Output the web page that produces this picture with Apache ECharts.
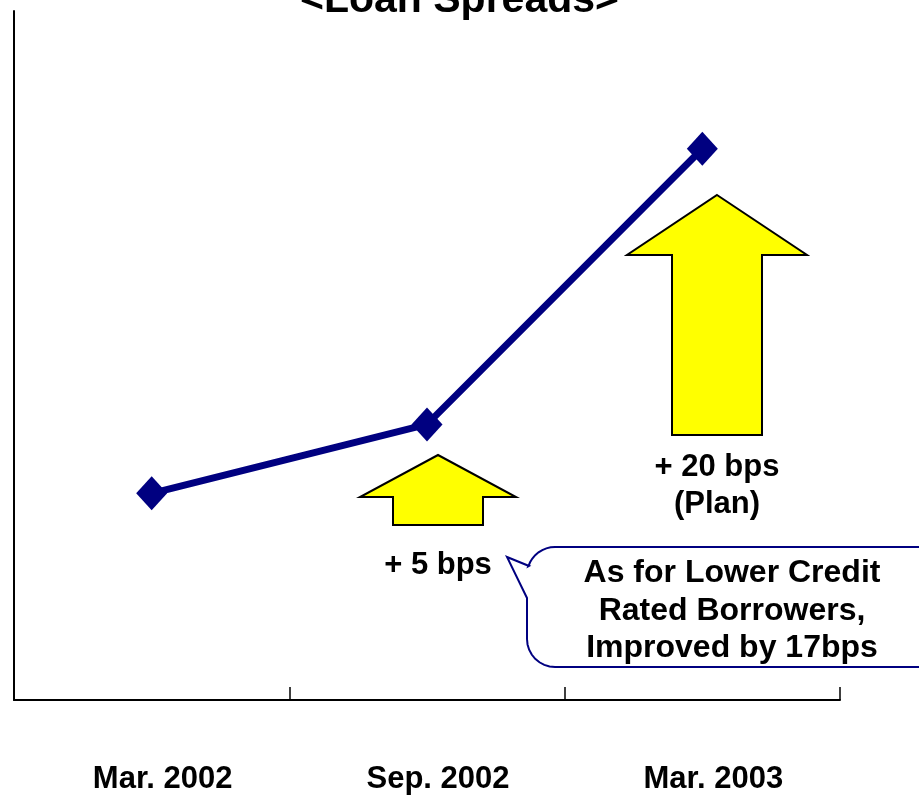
<!DOCTYPE html>
<html>
<head>
<meta charset="utf-8">
<script src="https://cdn.jsdelivr.net/npm/echarts@6/dist/echarts.min.js"></script>
<style>
  html, body { margin: 0; padding: 0; background: #fff; }
  #chart { width: 919px; height: 795px; }
</style>
</head>
<body>
<div id="chart"></div>
<script>
// Loan spread levels (bps above base) for each period
const periods = ['Mar. 2002', 'Sep. 2002', 'Mar. 2003'];
const spreads = [15, 20, 40];
const yMin = 0;
const yMax = 50;

const FONT = '"Liberation Sans", Arial, sans-serif';
const NAVY = '#000080';

const chart = echarts.init(document.getElementById('chart'));

// Block up-arrow outline: tip, head corners, shaft
function upArrow(cx, tipY, headY, baseY, headHalf, shaftHalf) {
  return [
    [cx, tipY],
    [cx + headHalf, headY],
    [cx + shaftHalf, headY],
    [cx + shaftHalf, baseY],
    [cx - shaftHalf, baseY],
    [cx - shaftHalf, headY],
    [cx - headHalf, headY]
  ];
}

// Circle-arc points from angle a0 to a1 (radians)
function arc(cx, cy, r, a0, a1, n) {
  const pts = [];
  for (let i = 0; i <= n; i++) {
    const a = a0 + (a1 - a0) * i / n;
    pts.push([cx + r * Math.cos(a), cy + r * Math.sin(a)]);
  }
  return pts;
}

// Speech bubble: rounded box with a tail pointing up-left
function bubble(x0, y0, x1, y1, r) {
  const pts = [];
  pts.push([x0, y0 + 51]);          // tail lower join
  pts.push([x0 - 20, y0 + 10]);     // tail tip
  pts.push([x0 + 2, y0 + 19]);      // tail upper join
  arc(x0 + r, y0 + r, r, Math.PI * 1.1, Math.PI * 1.5, 8).forEach(p => pts.push(p));
  pts.push([x1, y0]);
  pts.push([x1, y1]);
  arc(x0 + r, y1 - r, r, Math.PI * 0.5, Math.PI, 8).forEach(p => pts.push(p));
  return pts;
}

const labelStyle = { fontFamily: FONT, fontWeight: 'bold', fontSize: 31, fill: '#000' };

chart.setOption({
  animation: false,
  backgroundColor: '#fff',
  title: {
    text: '<Loan Spreads>',
    left: 'center',
    top: -25,
    textStyle: { fontFamily: FONT, fontWeight: 'bold', fontSize: 41, color: '#000' }
  },
  grid: { left: 14, right: 79, top: 11, bottom: 95 },
  xAxis: {
    type: 'category',
    data: periods,
    boundaryGap: true,
    axisLine: { lineStyle: { color: '#000', width: 2 } },
    axisTick: { show: true, inside: true, length: 13, lineStyle: { color: '#000', width: 1.5 } },
    axisLabel: {
      margin: 64,
      color: '#000',
      fontFamily: FONT,
      fontWeight: 'bold',
      fontSize: 31,
      padding: [0, 0, 0, 22]
    }
  },
  yAxis: {
    type: 'value',
    min: yMin,
    max: yMax,
    axisLine: { show: true, lineStyle: { color: '#000', width: 2 } },
    axisTick: { show: false },
    axisLabel: { show: false },
    splitLine: { show: false }
  },
  series: [{
    type: 'line',
    data: spreads,
    symbol: 'diamond',
    symbolSize: [31, 34],
    z: 5,
    lineStyle: { color: NAVY, width: 7 },
    itemStyle: { color: NAVY }
  }],
  graphic: [
    {
      type: 'polygon',
      shape: { points: upArrow(438, 455, 497, 525, 78, 45) },
      style: { fill: '#ffff00', stroke: '#000', lineWidth: 2 }
    },
    {
      type: 'polygon',
      shape: { points: upArrow(717, 195, 255, 435, 90, 45) },
      style: { fill: '#ffff00', stroke: '#000', lineWidth: 2 }
    },
    {
      type: 'text', x: 438, y: 565,
      style: Object.assign({ text: '+ 5 bps', align: 'center', verticalAlign: 'middle' }, labelStyle)
    },
    {
      type: 'text', x: 717, y: 486,
      style: Object.assign({ text: '+ 20 bps\n(Plan)', align: 'center', verticalAlign: 'middle', lineHeight: 37 }, labelStyle)
    },
    {
      type: 'polygon',
      shape: { points: bubble(527, 547, 940, 667, 28) },
      style: { fill: '#fff', stroke: NAVY, lineWidth: 2 }
    },
    {
      type: 'text', x: 732, y: 611,
      style: Object.assign({
        text: 'As for Lower Credit\nRated Borrowers,\nImproved by 17bps',
        align: 'center', verticalAlign: 'middle', lineHeight: 37.5
      }, labelStyle, { fontSize: 32 })
    }
  ]
});
</script>
</body>
</html>
